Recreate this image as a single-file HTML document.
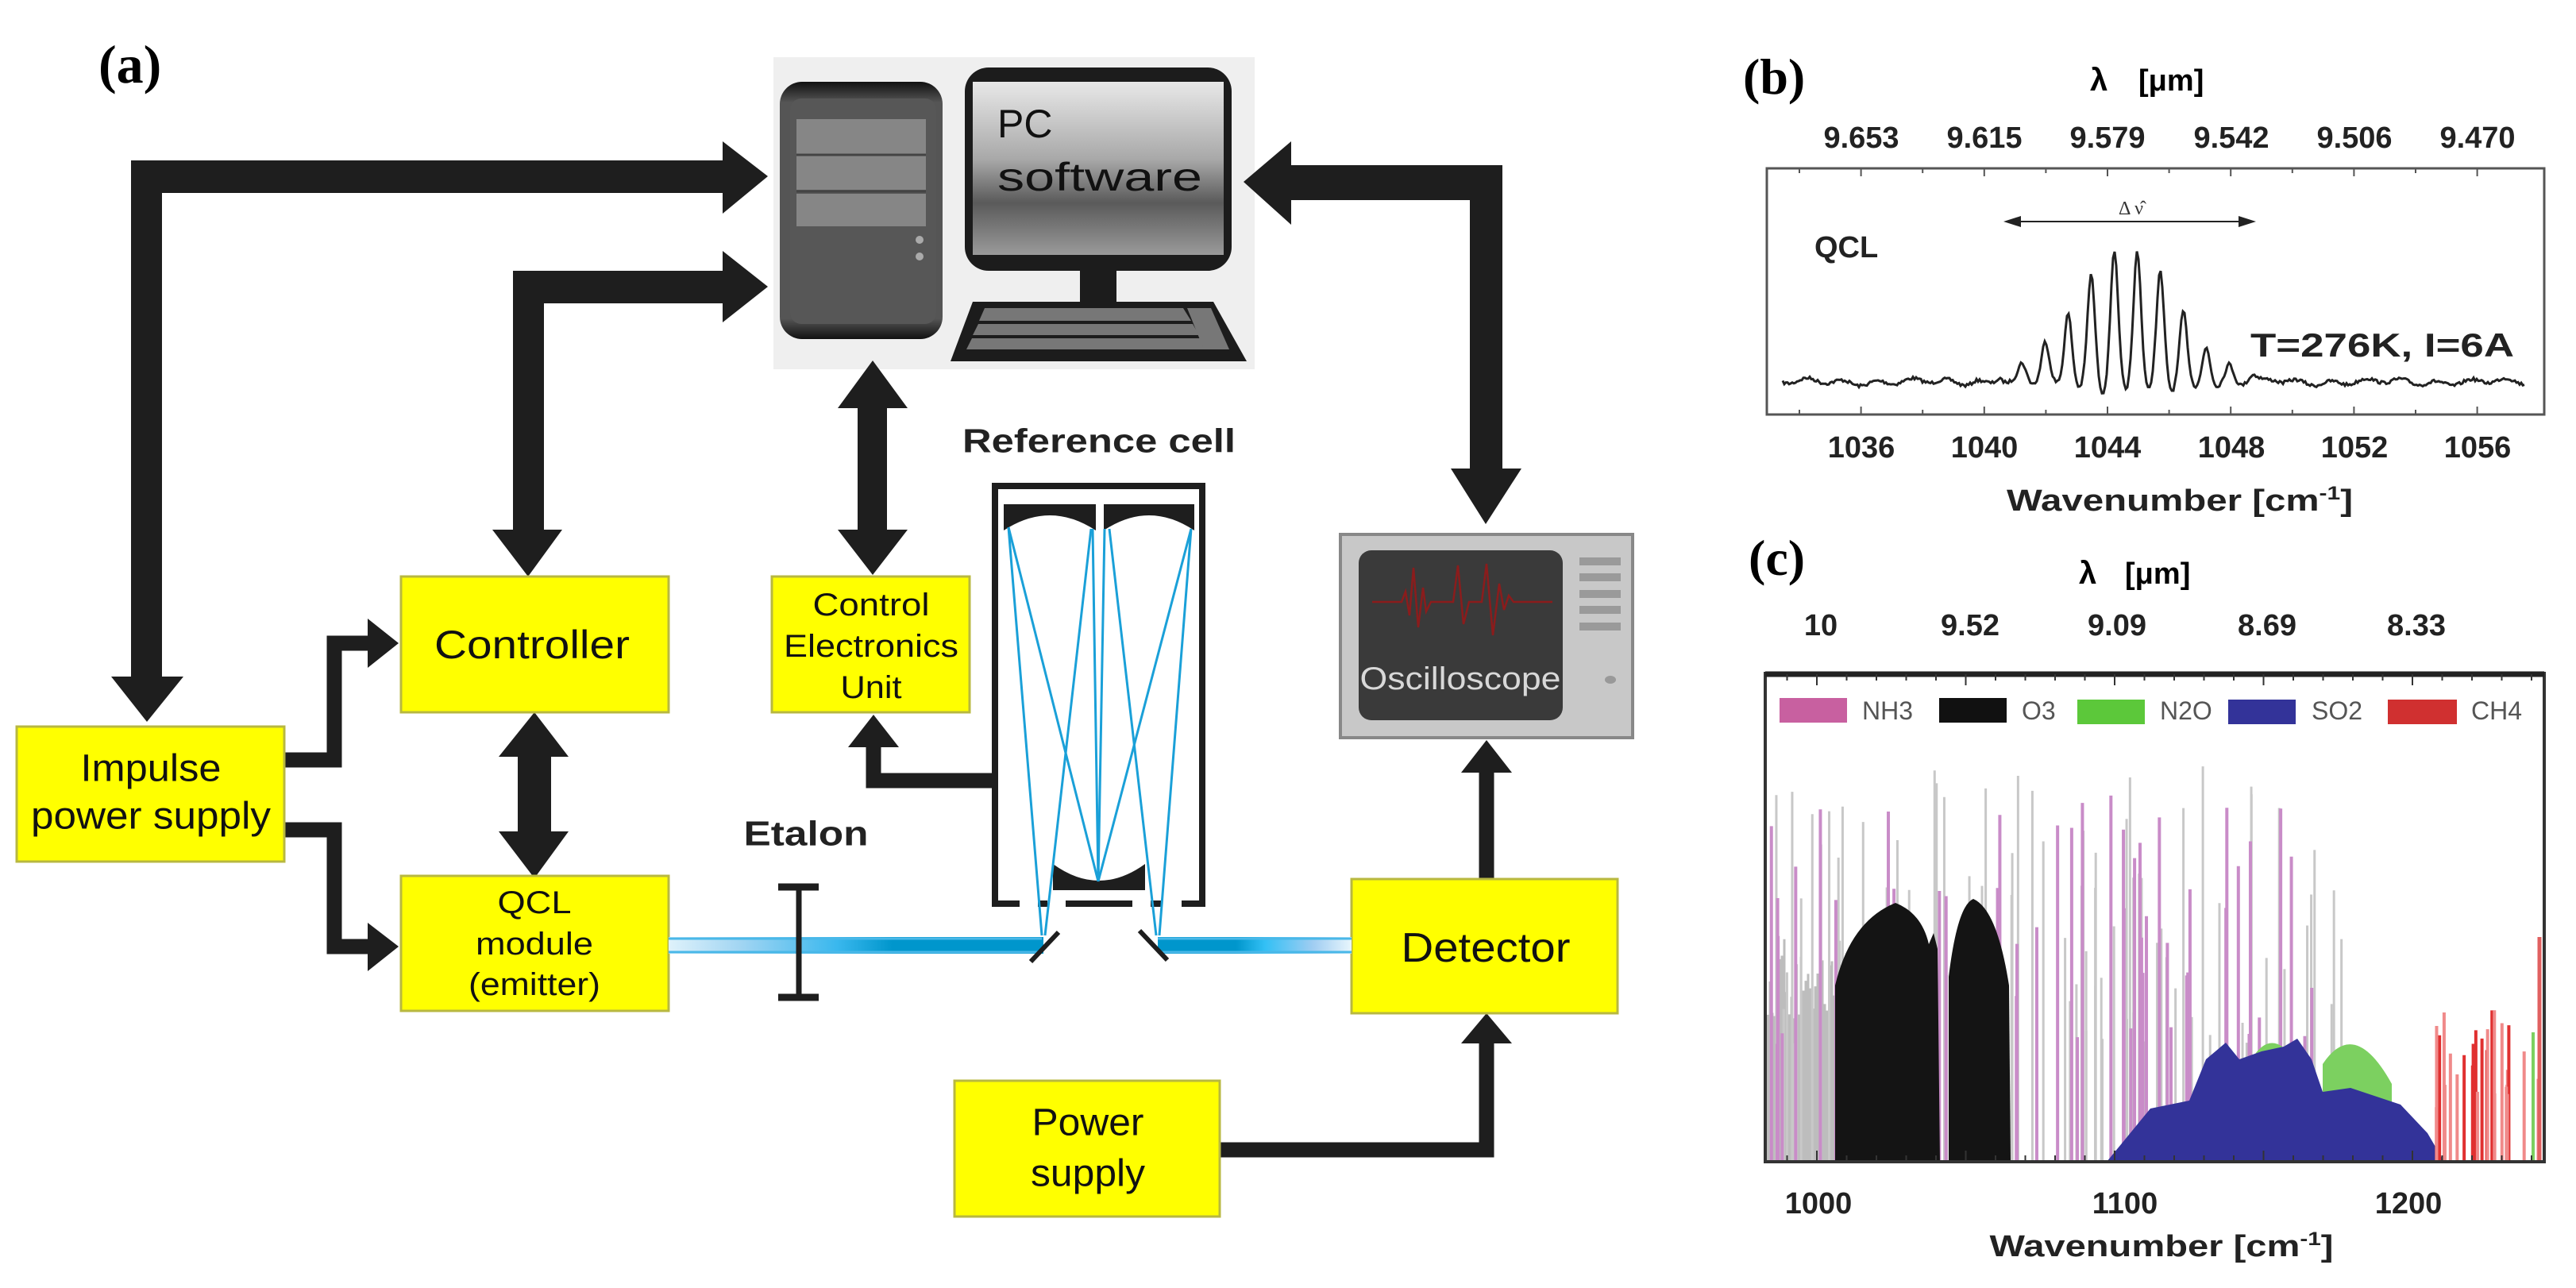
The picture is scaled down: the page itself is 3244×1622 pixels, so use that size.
<!DOCTYPE html>
<html><head><meta charset="utf-8"><style>
html,body{margin:0;padding:0;background:#fff;width:3244px;height:1622px;overflow:hidden}
svg text{font-family:"Liberation Sans",Arial,sans-serif}
</style></head><body>
<svg id="s" width="3244" height="1622" viewBox="0 0 3244 1622" xmlns="http://www.w3.org/2000/svg">
<defs>
<linearGradient id="scr" x1="0" y1="0" x2="0" y2="1">
<stop offset="0" stop-color="#e8e8e8"/><stop offset="0.45" stop-color="#a8a8a8"/><stop offset="0.7" stop-color="#5a5a5a"/><stop offset="1" stop-color="#9a9a9a"/></linearGradient>
<linearGradient id="twr" x1="0" y1="0" x2="0" y2="1">
<stop offset="0" stop-color="#111"/><stop offset="0.08" stop-color="#555"/><stop offset="0.92" stop-color="#555"/><stop offset="1" stop-color="#111"/></linearGradient>
<linearGradient id="beamL" x1="842" y1="0" x2="1312" y2="0" gradientUnits="userSpaceOnUse">
<stop offset="0" stop-color="#dff2fb"/><stop offset="0.2" stop-color="#9fd4f2"/><stop offset="0.45" stop-color="#3ab8ee"/><stop offset="0.6" stop-color="#0096cc"/><stop offset="1" stop-color="#0096cc"/></linearGradient>
<linearGradient id="beamR" x1="1460" y1="0" x2="1702" y2="0" gradientUnits="userSpaceOnUse">
<stop offset="0" stop-color="#0096cc"/><stop offset="0.4" stop-color="#0096cc"/><stop offset="0.55" stop-color="#33c0f5"/><stop offset="0.8" stop-color="#a0cdf2"/><stop offset="1" stop-color="#e8f6fc"/></linearGradient>
</defs>

<!-- (a) label -->
<text x="124" y="104" font-family="Liberation Serif" font-weight="bold" font-size="68" style="font-family:'Liberation Serif',serif">(a)</text>

<!-- PC -->
<rect x="974" y="72" width="606" height="393" fill="#efefef"/>
<rect x="982" y="103" width="205" height="324" rx="28" fill="url(#twr)"/>
<rect x="995" y="124" width="184" height="284" rx="14" fill="#575757"/>
<rect x="1003" y="150" width="163" height="44" fill="#868686"/>
<rect x="1003" y="196" width="163" height="43" fill="#868686"/>
<rect x="1003" y="244" width="163" height="41" fill="#868686"/>
<line x1="1003" y1="195" x2="1166" y2="195" stroke="#444" stroke-width="3"/>
<line x1="1003" y1="241" x2="1166" y2="241" stroke="#444" stroke-width="3"/>
<circle cx="1158" cy="302" r="5" fill="#aaa"/><circle cx="1158" cy="323" r="5" fill="#aaa"/>
<rect x="1215" y="85" width="336" height="256" rx="30" fill="#1c1c1c"/>
<rect x="1225" y="103" width="316" height="218" fill="url(#scr)"/>
<text x="1256" y="173" font-size="50" fill="#111">PC</text>
<text x="1256" y="240" font-size="50" fill="#111" textLength="258" lengthAdjust="spacingAndGlyphs">software</text>
<rect x="1360" y="341" width="46" height="42" fill="#1c1c1c"/>
<polygon points="1225,380 1528,380 1570,455 1197,455" fill="#1c1c1c"/>
<polygon points="1240,388 1490,388 1500,404 1233,404" fill="#777"/>
<polygon points="1232,408 1502,408 1510,422 1225,422" fill="#777"/>
<polygon points="1224,426 1512,426 1520,440 1217,440" fill="#777"/>
<polygon points="1495,388 1525,388 1548,440 1516,440" fill="#777"/>

<!-- arrows -->
<g fill="#1e1e1e">
<polygon points="165,202 910,202 910,178 967,222 910,269 910,243 204,243 204,852 231,852 185,909 140,852 165,852"/>
<polygon points="646,341 910,341 910,316 967,361 910,406 910,382 685,382 685,667 708,667 665,726 620,667 646,667"/>
<polygon points="1099,454 1143,514 1117,514 1117,667 1143,667 1099,724 1055,667 1080,667 1080,514 1055,514"/>
<polygon points="1566,229 1626,178 1626,208 1892,208 1892,590 1916,590 1871,660 1827,590 1851,590 1851,252 1626,252 1626,283"/>
<polygon points="673,897 716,953 694,953 694,1047 716,1047 673,1106 628,1047 652,1047 652,953 628,953"/>
<polygon points="463,779 502,810 463,841"/>
<polygon points="463,1162 502,1192 463,1223"/>
<polygon points="1068,941 1132,941 1100,900"/>
<polygon points="1840,973 1904,973 1872,932"/>
<polygon points="1840,1314 1904,1314 1872,1276"/>
</g>
<g fill="none" stroke="#1e1e1e" stroke-width="19" stroke-linejoin="miter">
<polyline points="358,957 421,957 421,810 470,810"/>
<polyline points="358,1045 421,1045 421,1192 470,1192"/>
<polyline points="1251,983 1100,983 1100,935"/>
<polyline points="1872,1107 1872,968"/>
<polyline points="1536,1448 1872,1448 1872,1310"/>
</g>

<!-- yellow boxes -->
<g fill="#ffff00" stroke="#b8b840" stroke-width="3">
<rect x="21" y="915" width="337" height="170"/>
<rect x="505" y="726" width="337" height="171"/>
<rect x="972" y="726" width="249" height="171"/>
<rect x="505" y="1103" width="337" height="170"/>
<rect x="1702" y="1107" width="335" height="169"/>
<rect x="1202" y="1361" width="334" height="171"/>
</g>
<g fill="#111" text-anchor="middle" dominant-baseline="central">
<text x="670" y="812" font-size="50" textLength="246" lengthAdjust="spacingAndGlyphs">Controller</text>
<text x="1097" y="762" font-size="40" textLength="147" lengthAdjust="spacingAndGlyphs">Control</text>
<text x="1097" y="814" font-size="40" textLength="220" lengthAdjust="spacingAndGlyphs">Electronics</text>
<text x="1097" y="866" font-size="40" textLength="77" lengthAdjust="spacingAndGlyphs">Unit</text>
<text x="190" y="968" font-size="48" textLength="177" lengthAdjust="spacingAndGlyphs">Impulse</text>
<text x="190" y="1028" font-size="48" textLength="302" lengthAdjust="spacingAndGlyphs">power supply</text>
<text x="673" y="1137" font-size="40" textLength="93" lengthAdjust="spacingAndGlyphs">QCL</text>
<text x="673" y="1189" font-size="40" textLength="148" lengthAdjust="spacingAndGlyphs">module</text>
<text x="673" y="1240" font-size="40" textLength="166" lengthAdjust="spacingAndGlyphs">(emitter)</text>
<text x="1871" y="1194" font-size="52" textLength="213" lengthAdjust="spacingAndGlyphs">Detector</text>
<text x="1370" y="1414" font-size="48" textLength="141" lengthAdjust="spacingAndGlyphs">Power</text>
<text x="1370" y="1478" font-size="48" textLength="144" lengthAdjust="spacingAndGlyphs">supply</text>
<text x="1015" y="1050" font-size="44" textLength="157" lengthAdjust="spacingAndGlyphs" font-weight="bold" fill="#222">Etalon</text>
<text x="1384" y="555" font-size="42" textLength="344" lengthAdjust="spacingAndGlyphs" font-weight="bold" fill="#222">Reference cell</text>
</g>

<!-- Oscilloscope -->
<rect x="1688" y="673" width="368" height="256" fill="#c8c8c8" stroke="#888" stroke-width="4"/>
<rect x="1711" y="693" width="257" height="214" rx="16" fill="#3a3a3a"/>
<path d="M1728,758 L1765,758 L1770,745 L1775,775 L1780,715 L1786,790 L1792,740 L1796,770 L1802,758 L1830,758 L1836,712 L1843,786 L1850,758 L1866,758 L1872,710 L1880,800 L1888,735 L1894,768 L1900,750 L1906,758 L1955,758" fill="none" stroke="#8b1c1c" stroke-width="2.5"/>
<text x="1839" y="868" font-size="40" fill="#d8d8d8" text-anchor="middle" textLength="253" lengthAdjust="spacingAndGlyphs">Oscilloscope</text>
<g fill="#9a9a9a"><rect x="1989" y="702" width="52" height="10"/><rect x="1989" y="722" width="52" height="10"/><rect x="1989" y="743" width="52" height="10"/><rect x="1989" y="763" width="52" height="10"/><rect x="1989" y="784" width="52" height="10"/></g>
<ellipse cx="2028" cy="856" rx="7" ry="5" fill="#999"/>

<!-- beams -->
<rect x="842" y="1180" width="472" height="21" fill="url(#beamL)"/>
<line x1="842" y1="1182" x2="1312" y2="1182" stroke="#4ab8e8" stroke-width="3"/>
<line x1="842" y1="1199" x2="1312" y2="1199" stroke="#4ab8e8" stroke-width="3"/>
<rect x="1458" y="1180" width="244" height="21" fill="url(#beamR)"/>
<line x1="1458" y1="1182" x2="1702" y2="1182" stroke="#4ab8e8" stroke-width="3"/>
<line x1="1458" y1="1199" x2="1702" y2="1199" stroke="#4ab8e8" stroke-width="3"/>

<!-- Etalon -->
<g stroke="#1e1e1e" stroke-width="7" fill="none">
<line x1="1006" y1="1115" x2="1006" y2="1259"/>
<line x1="980" y1="1117" x2="1031" y2="1117" stroke-width="9"/>
<line x1="980" y1="1256" x2="1031" y2="1256" stroke-width="9"/>
</g>

<!-- Reference cell -->
<g stroke="#1e1e1e" stroke-width="8" fill="none">
<polyline points="1284,1138 1253,1138 1253,612 1514,612 1514,1138 1488,1138"/>
<line x1="1307" y1="1138" x2="1319" y2="1138"/>
<line x1="1342" y1="1138" x2="1426" y2="1138"/>
<line x1="1449" y1="1138" x2="1464" y2="1138"/>
</g>
<path d="M1264,635 L1380,635 L1380,668 Q1322,630 1264,668 Z" fill="#1e1e1e"/>
<path d="M1390,635 L1504,635 L1504,668 Q1447,630 1390,668 Z" fill="#1e1e1e"/>
<path d="M1326,1088 Q1384,1130 1442,1088 L1442,1121 L1326,1121 Z" fill="#1e1e1e"/>
<g stroke="#1aa0d8" stroke-width="3" fill="none">
<line x1="1312" y1="1178" x2="1270" y2="664"/>
<line x1="1316" y1="1178" x2="1374" y2="666"/>
<line x1="1270" y1="664" x2="1383" y2="1110"/>
<line x1="1376" y1="666" x2="1383" y2="1110"/>
<line x1="1391" y1="666" x2="1383" y2="1110"/>
<line x1="1500" y1="666" x2="1383" y2="1110"/>
<line x1="1397" y1="666" x2="1456" y2="1178"/>
<line x1="1500" y1="666" x2="1460" y2="1178"/>
</g>
<g stroke="#1e1e1e" stroke-width="6">
<line x1="1298" y1="1211" x2="1333" y2="1174"/>
<line x1="1435" y1="1172" x2="1470" y2="1209"/>
</g>

<!-- (b) plot -->
<text x="2195" y="118" font-size="64" font-weight="bold" style="font-family:'Liberation Serif',serif">(b)</text>
<text x="2632" y="114" font-size="40" font-weight="bold">λ</text>
<text x="2693" y="114" font-size="38" font-weight="bold">[μm]</text>
<g font-size="38" font-weight="bold" text-anchor="middle" fill="#222">
<text x="2344" y="186">9.653</text><text x="2499" y="186">9.615</text><text x="2654" y="186">9.579</text><text x="2810" y="186">9.542</text><text x="2965" y="186">9.506</text><text x="3120" y="186">9.470</text>
<text x="2344" y="576">1036</text><text x="2499" y="576">1040</text><text x="2654" y="576">1044</text><text x="2810" y="576">1048</text><text x="2965" y="576">1052</text><text x="3120" y="576">1056</text>
<text x="2745" y="643" textLength="436" lengthAdjust="spacingAndGlyphs">Wavenumber  [cm<tspan dy="-14" font-size="24">-1</tspan><tspan dy="14">]</tspan></text>
</g>
<rect x="2225" y="212" width="979" height="310" fill="none" stroke="#555" stroke-width="3"/>
<g id="bticks" stroke="#555" stroke-width="2"></g>
<text x="2285" y="324" font-size="38" font-weight="bold" fill="#222">QCL</text>
<text x="2834" y="449" font-size="42" font-weight="bold" fill="#222" textLength="332" lengthAdjust="spacingAndGlyphs">T=276K, I=6A</text>
<line x1="2535" y1="279" x2="2830" y2="279" stroke="#222" stroke-width="2"/>
<polygon points="2523,279 2545,272 2545,286" fill="#222"/><polygon points="2841,279 2819,272 2819,286" fill="#222"/>
<text x="2668" y="270" font-size="24" fill="#333" style="font-family:'Liberation Serif',serif">Δ ν̂</text>
<path id="bspec" fill="none" stroke="#222" stroke-width="3"/>

<!-- (c) plot -->
<text x="2202" y="724" font-size="64" font-weight="bold" style="font-family:'Liberation Serif',serif">(c)</text>
<text x="2618" y="735" font-size="40" font-weight="bold">λ</text>
<text x="2676" y="735" font-size="38" font-weight="bold">[μm]</text>
<g font-size="38" font-weight="bold" text-anchor="middle" fill="#222">
<text x="2293" y="800">10</text><text x="2481" y="800">9.52</text><text x="2666" y="800">9.09</text><text x="2855" y="800">8.69</text><text x="3043" y="800">8.33</text>
<text x="2290" y="1528">1000</text><text x="2676" y="1528">1100</text><text x="3033" y="1528">1200</text>
<text x="2722" y="1582" textLength="433" lengthAdjust="spacingAndGlyphs">Wavenumber  [cm<tspan dy="-14" font-size="24">-1</tspan><tspan dy="14">]</tspan></text>
</g>
<g id="cspec"></g>
<rect x="2223" y="848" width="981" height="615" fill="none" stroke="#333" stroke-width="4"/>
<line x1="2223" y1="849" x2="3204" y2="849" stroke="#222" stroke-width="7"/>
<g id="cticks" stroke="#333" stroke-width="2"></g>
<g font-size="32" fill="#555">
<rect x="2241" y="879" width="85" height="31" fill="#c860a0"/><text x="2345" y="906">NH3</text>
<rect x="2442" y="879" width="85" height="31" fill="#111"/><text x="2546" y="906">O3</text>
<rect x="2616" y="881" width="85" height="31" fill="#5cc83a"/><text x="2720" y="906">N2O</text>
<rect x="2806" y="881" width="85" height="31" fill="#333399"/><text x="2911" y="906">SO2</text>
<rect x="3007" y="881" width="87" height="31" fill="#d03030"/><text x="3112" y="906">CH4</text>
</g>
</svg>
<script>
(function(){
var NS="http://www.w3.org/2000/svg";
function el(p,n,a){var e=document.createElementNS(NS,n);for(var k in a)e.setAttribute(k,a[k]);p.appendChild(e);return e;}
var seed=7;function r(){seed=(seed*16807)%2147483647;return (seed-1)/2147483646;}
// b spectrum
var d="";for(var x=2245;x<=3180;x+=2){var y=481+3*Math.sin(x/7)+2*Math.sin(x/23)+ (r()-0.5)*4;
for(var k=-7;k<=6;k++){var c=2677+(k+0.5)*29;var A=171*Math.exp(-Math.pow((c-2677)/90,2));y-=A*Math.exp(-Math.pow((x-c)/6.5,2));y+=A*0.08*Math.exp(-Math.pow((x-c-14.5)/5,2));}
d+=(x==2245?"M":"L")+x+","+y.toFixed(1);}
document.getElementById("bspec").setAttribute("d",d);
var bt=document.getElementById("bticks");
for(var i=0;i<12;i++){var xx=2266+i*77.6;var L=(i%2==1)?10:6;el(bt,"line",{x1:xx,y1:212,x2:xx,y2:212+L});el(bt,"line",{x1:xx,y1:522,x2:xx,y2:522-L});}
// c spectrum
var g=document.getElementById("cspec");
function px(w){return 2288+(w-1000)*3.75;}
// grey left block
for(var x=2226;x<2312;x+=3){el(g,"line",{x1:x,y1:1463,x2:x,y2:1180+r()*120,stroke:"#bdbdbd","stroke-width":3});}
// grey & pink spikes
for(var i=0;i<90;i++){var x=2230+r()*720;var top=960+r()*360;el(g,"line",{x1:x,y1:1463,x2:x,y2:top,stroke:"#c8c8c8","stroke-width":3});}
for(var i=0;i<55;i++){var x=2230+r()*700;var top=1000+r()*330;el(g,"line",{x1:x,y1:1463,x2:x,y2:top,stroke:"#c98cc8","stroke-width":4});}
// O3
el(g,"path",{d:"M2311,1463 L2311,1241 Q2330,1160 2387,1137 Q2420,1150 2429,1189 L2435,1175 L2440,1195 L2443,1463 Z",fill:"#141414"});
el(g,"path",{d:"M2454,1463 L2454,1230 Q2465,1140 2485,1132 Q2515,1145 2530,1241 L2532,1463 Z",fill:"#141414"});
// N2O green
el(g,"path",{d:"M2838,1463 L2838,1330 Q2855,1305 2874,1318 L2878,1463 Z",fill:"#7cd060"});
el(g,"path",{d:"M2925,1463 L2925,1340 Q2965,1280 3012,1365 L3012,1463 Z",fill:"#7cd060"});
// SO2 blue
el(g,"path",{d:"M2653,1463 L2708,1396 L2757,1386 L2778,1334 L2803,1313 L2820,1334 L2848,1324 L2876,1318 L2893,1308 L2911,1334 L2925,1375 L2960,1370 L3023,1391 L3057,1427 L3078,1463 Z",fill:"#333399"});
// CH4 red
for(var i=0;i<28;i++){var x=3064+r()*138;var top=1272+r()*130;el(g,"line",{x1:x,y1:1463,x2:x,y2:top,stroke:(r()<0.5?"#e03030":"#f08a8a"),"stroke-width":4});}
el(g,"line",{x1:3198,y1:1463,x2:3198,y2:1180,stroke:"#e06060","stroke-width":5});
el(g,"line",{x1:3190,y1:1463,x2:3190,y2:1300,stroke:"#7cd060","stroke-width":4});
var ct=document.getElementById("cticks");
for(var w=990;w<=1240;w+=10){var xx=px(w);var L=(w%50==0)?14:8;el(ct,"line",{x1:xx,y1:1463,x2:xx,y2:1463-L});el(ct,"line",{x1:xx,y1:849,x2:xx,y2:849+L});}
})();
</script>
</body></html>
